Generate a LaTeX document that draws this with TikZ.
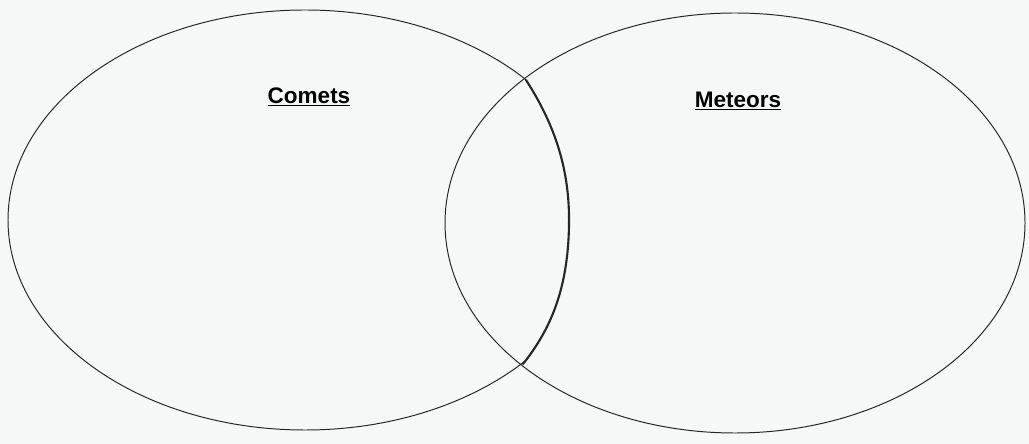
\documentclass[tikz,border=0pt]{standalone}
\usepackage{fontspec}
\setmainfont{Liberation Sans}
\usetikzlibrary{calc}
\definecolor{paper}{RGB}{246,248,247}

\begin{document}
\begin{tikzpicture}[x=0.025cm,y=-0.025cm]
    \tikzset{
      ring/.style={line width=0.7pt,black!85},
      handline/.style={line width=1.5pt,black!85,line cap=round},
      title/.style={font=\fontsize{16}{18}\selectfont\bfseries,inner sep=0pt}
    }
    % paper
    \fill[paper] (0,0) rectangle (1029,444);
    \useasboundingbox (0,0) rectangle (1029,444);
    % comets ring
    \begin{scope}
      \clip (0,0) rectangle (526,444);
      \draw[ring] (305,220) ellipse [x radius=297,y radius=210];
    \end{scope}
    \coordinate (top) at (526,80);
    \coordinate (bot) at (523,364);
    \draw[handline] (top) .. controls (555,125) and (570,170) .. (569,225)
                          .. controls (568,290) and (550,330) .. (bot);
    % meteors ring
    \draw[ring] (735,223) ellipse [x radius=290,y radius=210];
    % labels
    \node[title] (comets) at (309,97) {\underline{Comets}};
    \node[title] (meteors) at (738,101) {\underline{Meteors}};
\end{tikzpicture}
\end{document}
